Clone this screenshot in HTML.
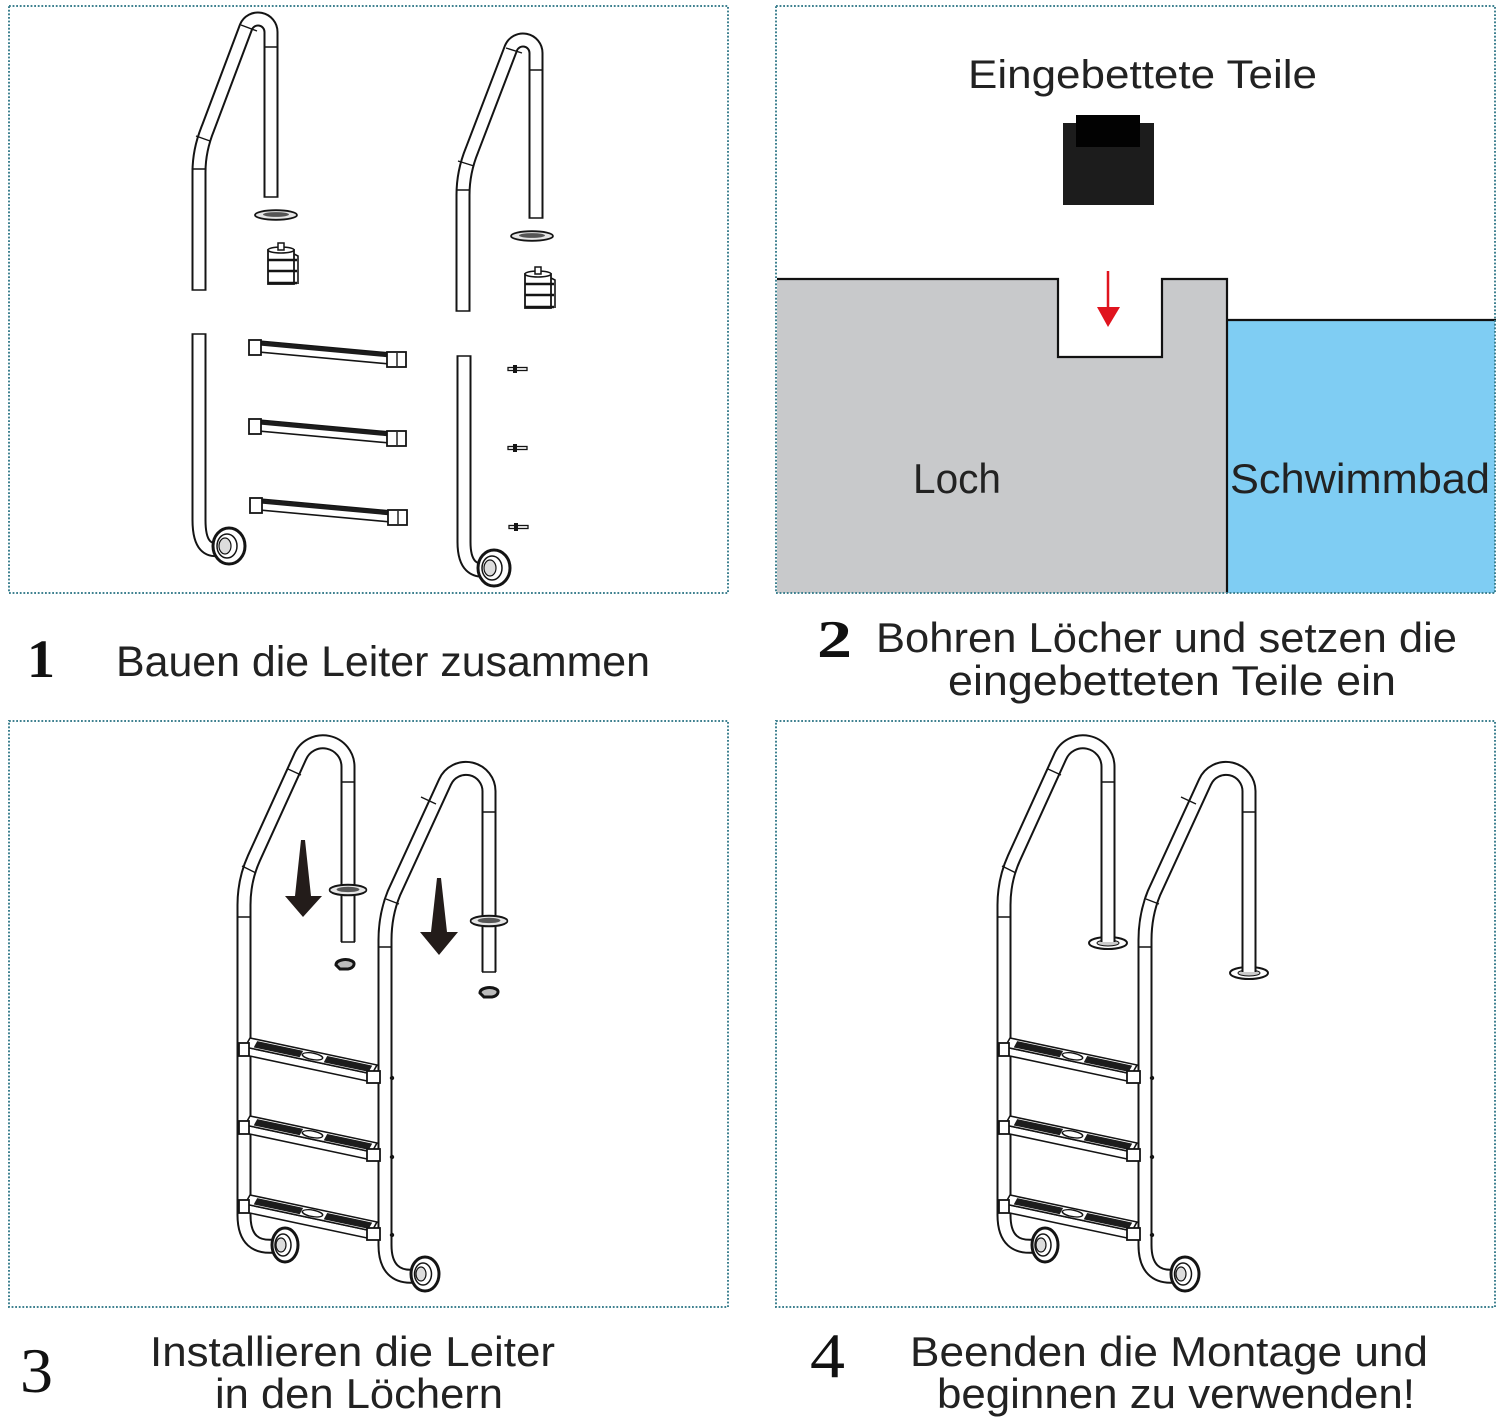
<!DOCTYPE html>
<html><head><meta charset="utf-8">
<style>
html,body{margin:0;padding:0;background:#fff;}
svg{display:block}
.tb{fill:none;stroke:#141414;stroke-width:15;stroke-linejoin:round}
.tw{fill:none;stroke:#fff;stroke-width:11;stroke-linejoin:round}
.ln{fill:none;stroke:#141414;stroke-width:1.4}
.txt{font-family:"Liberation Sans","DejaVu Sans",sans-serif;fill:#222}
.num{font-family:"Liberation Serif","DejaVu Serif",serif;fill:#111}
.bd{fill:none;stroke:#3f8190;stroke-width:2;stroke-dasharray:1.8 1.8}
</style></head><body>
<svg width="1500" height="1421" viewBox="0 0 1500 1421" xmlns="http://www.w3.org/2000/svg">
<defs>
  <g id="tr">
    <g transform="matrix(1,0.2126,0,1,245,1047)">
      <rect x="0" y="0" width="126" height="8" fill="#fff" stroke="#141414" stroke-width="1.6"/>
    </g>
    <g transform="matrix(1,0.2126,-0.5,0.9,250,1038)">
      <rect x="0" y="0" width="127" height="10" fill="#fff" stroke="#141414" stroke-width="1.6"/>
      <rect x="8" y="1.6" width="46" height="7" fill="#1c1c1c"/>
      <rect x="78" y="1.6" width="45" height="7" fill="#1c1c1c"/>
      <ellipse cx="65" cy="5" rx="10" ry="3.3" fill="#fff" stroke="#141414" stroke-width="1.4"/>
    </g>
    <rect x="239" y="1043" width="10" height="13" fill="#fff" stroke="#141414" stroke-width="1.8"/>
    <rect x="367" y="1071" width="13" height="12" fill="#fff" stroke="#141414" stroke-width="1.8"/>
  </g>
  <g id="lad">
    <path class="tb" d="M275,1246 C256,1248 244,1240 244,1215 L244,905 Q244,880 254,858 L300,757 A25,25 0 0 1 348,767 L348,942"/>
    <path class="tw" d="M275,1246 C256,1248 244,1240 244,1215 L244,905 Q244,880 254,858 L300,757 A25,25 0 0 1 348,767 L348,942"/>
    <path class="tb" d="M415,1276 C396,1278 385,1268 385,1245 L385,940 Q385,915 394,893 L445,782 A23,23 0 0 1 489,792 L489,972"/>
    <path class="tw" d="M415,1276 C396,1278 385,1268 385,1245 L385,940 Q385,915 394,893 L445,782 A23,23 0 0 1 489,792 L489,972"/>
    <path class="ln" d="M341,782 L355,782 M288,769 L301,775 M242,866 L256,873 M237,917 L251,917 M482,812 L496,812 M421,797 L436,804 M386,899 L399,904 M378,947 L392,947"/>
    <use href="#tr"/>
    <use href="#tr" transform="translate(0,78)"/>
    <use href="#tr" transform="translate(0,157)"/>
    <circle cx="392" cy="1078" r="2.2" fill="#141414"/>
    <circle cx="392" cy="1157" r="2.2" fill="#141414"/>
    <circle cx="392" cy="1235" r="2.2" fill="#141414"/>
    <ellipse cx="285" cy="1245" rx="13" ry="17" fill="#fff" stroke="#141414" stroke-width="3"/>
    <ellipse cx="283" cy="1245" rx="8" ry="11" fill="#fff" stroke="#141414" stroke-width="1.5"/>
    <ellipse cx="281" cy="1245" rx="5" ry="7" fill="#ddd" stroke="#141414" stroke-width="1.2"/>
    <ellipse cx="425" cy="1274" rx="14" ry="17" fill="#fff" stroke="#141414" stroke-width="3"/>
    <ellipse cx="423" cy="1274" rx="8.5" ry="11" fill="#fff" stroke="#141414" stroke-width="1.5"/>
    <ellipse cx="421" cy="1274" rx="5" ry="7" fill="#ddd" stroke="#141414" stroke-width="1.2"/>
  </g>
  <g id="tp">
    <polygon points="259,341 390,353 390,364 259,352" fill="#fff" stroke="#141414" stroke-width="1.6"/>
    <polygon points="259,341.5 390,353.5 390,357.5 259,345.5" fill="#1c1c1c"/>
    <rect x="249" y="340" width="12" height="15" fill="#fff" stroke="#141414" stroke-width="1.8"/>
    <rect x="387" y="352" width="19" height="15" fill="#fff" stroke="#141414" stroke-width="1.8"/>
    <line x1="397" y1="353" x2="397" y2="366" class="ln"/>
  </g>
  <g id="bolt">
    <rect x="508" y="-1.5" width="19" height="3" fill="#fff" stroke="#141414" stroke-width="1.3"/>
    <rect x="513" y="-4" width="4" height="8" fill="#141414"/>
  </g>
  <g id="anc">
    <rect x="-13" y="-16" width="26" height="34" fill="#fff" stroke="#141414" stroke-width="1.8"/>
    <ellipse cx="0" cy="-16" rx="13" ry="3" fill="#fff" stroke="#141414" stroke-width="1.6"/>
    <rect x="-3" y="-23" width="6" height="7" fill="#fff" stroke="#141414" stroke-width="1.5"/>
    <path d="M-13,-6 L16,-6 M-13,5 L16,5 M-13,17 L16,17" stroke="#141414" stroke-width="2.5" fill="none"/>
    <path d="M13,-12 L17,-10 L17,18" stroke="#141414" stroke-width="1.6" fill="none"/>
  </g>
  <g id="ring">
    <ellipse cx="0" cy="0" rx="21" ry="4.8" fill="#e6e6e6" stroke="#141414" stroke-width="1.8"/>
    <ellipse cx="0" cy="-0.5" rx="13" ry="2.4" fill="#555"/>
  </g>
</defs>

<!-- PANEL 1 -->
<rect class="bd" x="9" y="6" width="719" height="587"/>
<path class="tb" d="M199,290 L199,172 Q199,150 208,128 L246,27 A13,13 0 0 1 271,32 L271,197"/>
<path class="tw" d="M199,290 L199,172 Q199,150 208,128 L246,27 A13,13 0 0 1 271,32 L271,197"/>
<path class="tb" d="M463,311 L463,195 Q463,172 472,150 L511,48 A13,13 0 0 1 536,53 L536,218"/>
<path class="tw" d="M463,311 L463,195 Q463,172 472,150 L511,48 A13,13 0 0 1 536,53 L536,218"/>
<path class="tb" d="M199,334 L199,520 C199,546 208,552 222,549"/>
<path class="tw" d="M199,334 L199,520 C199,546 208,552 222,549"/>
<path class="tb" d="M464,356 L464,542 C464,566 474,572 488,570"/>
<path class="tw" d="M464,356 L464,542 C464,566 474,572 488,570"/>
<path class="ln" d="M191.5,290 L206.5,290 M263.5,197 L278.5,197 M455.5,311 L470.5,311 M528.5,218 L543.5,218 M191.5,334 L206.5,334 M456.5,356 L471.5,356
 M264,47 L278,47 M241,25 L257,31 M196,136 L210,141 M191.5,169 L206.5,169 M529,70 L543,70 M506,48 L522,53 M458,161 L474,166 M456,190 L470,190"/>
<ellipse cx="229" cy="546" rx="16" ry="18" fill="#fff" stroke="#141414" stroke-width="3"/>
<ellipse cx="227" cy="546" rx="10" ry="12" fill="#fff" stroke="#141414" stroke-width="1.5"/>
<ellipse cx="225" cy="546" rx="6" ry="8" fill="#ddd" stroke="#141414" stroke-width="1.2"/>
<ellipse cx="494" cy="568" rx="16" ry="18" fill="#fff" stroke="#141414" stroke-width="3"/>
<ellipse cx="492" cy="568" rx="10" ry="12" fill="#fff" stroke="#141414" stroke-width="1.5"/>
<ellipse cx="490" cy="568" rx="6" ry="8" fill="#ddd" stroke="#141414" stroke-width="1.2"/>
<use href="#ring" transform="translate(276,215)"/>
<use href="#ring" transform="translate(532,236)"/>
<use href="#anc" transform="translate(281,266)"/>
<use href="#anc" transform="translate(538,290)"/>
<use href="#tp"/>
<use href="#tp" transform="translate(0,79)"/>
<use href="#tp" transform="translate(1,158)"/>
<use href="#bolt" transform="translate(0,369)"/>
<use href="#bolt" transform="translate(0,448)"/>
<use href="#bolt" transform="translate(1,527)"/>

<!-- PANEL 2 -->
<polygon points="777,279 1058,279 1058,357 1162,357 1162,279 1227,279 1227,593 777,593" fill="#c8c9cb"/>
<rect x="1227" y="320" width="268" height="273" fill="#7fcdf3"/>
<polyline points="777,279 1058,279 1058,357 1162,357 1162,279 1227,279 1227,593" fill="none" stroke="#111" stroke-width="2.2"/>
<line x1="1227" y1="320" x2="1496" y2="320" stroke="#111" stroke-width="2.2"/>
<rect class="bd" x="776" y="6" width="719" height="587"/>
<rect x="1063" y="123" width="91" height="82" fill="#1c1c1c"/>
<rect x="1076" y="115" width="64" height="32" fill="#020202"/>
<line x1="1108" y1="271" x2="1108" y2="312" stroke="#e0141e" stroke-width="2.5"/>
<polygon points="1097,307 1120,307 1108,327" fill="#e0141e"/>
<text class="txt" x="968" y="88" font-size="40" textLength="349" lengthAdjust="spacingAndGlyphs">Eingebettete Teile</text>
<text class="txt" x="913" y="493" font-size="42" textLength="88" lengthAdjust="spacingAndGlyphs">Loch</text>
<text class="txt" x="1230" y="493" font-size="42" textLength="260" lengthAdjust="spacingAndGlyphs">Schwimmbad</text>

<text class="num" x="27" y="677" font-size="54" font-weight="bold" textLength="28" lengthAdjust="spacingAndGlyphs">1</text>
<text class="txt" x="116" y="676" font-size="43" textLength="534" lengthAdjust="spacingAndGlyphs">Bauen die Leiter zusammen</text>
<text class="num" x="817" y="657" font-size="53" font-weight="bold" textLength="35" lengthAdjust="spacingAndGlyphs">2</text>
<text class="txt" x="876" y="652" font-size="42" textLength="581" lengthAdjust="spacingAndGlyphs">Bohren Löcher und setzen die</text>
<text class="txt" x="948" y="695" font-size="42" textLength="448" lengthAdjust="spacingAndGlyphs">eingebetteten Teile ein</text>

<!-- PANEL 3 -->
<rect class="bd" x="9" y="721" width="719" height="586"/>
<use href="#lad"/>
<path class="ln" d="M341,942 L355,942 M482,972 L496,972"/>
<use href="#ring" transform="translate(348,890) scale(0.88,1.1)"/>
<use href="#ring" transform="translate(489,921) scale(0.88,1.1)"/>
<path d="M336,965 C336,960 346,958 352,961 C356,963 354,968 348,969 L340,969 Z" fill="#bbb" stroke="#141414" stroke-width="3"/>
<path d="M480,993 C480,988 490,986 496,989 C500,991 498,996 492,997 L484,997 Z" fill="#bbb" stroke="#141414" stroke-width="3"/>
<polygon points="301,840 305,840 311,896 322,896 303,917 285,896 295,896" fill="#231c1a"/>
<polygon points="437,878 441,878 447,932 458,932 439,955 420,932 431,932" fill="#231c1a"/>

<!-- PANEL 4 -->
<rect class="bd" x="776" y="721" width="719" height="586"/>
<use href="#lad" transform="translate(760,0)"/>
<ellipse cx="1108" cy="943" rx="19" ry="6" fill="#fff" stroke="#141414" stroke-width="2"/>
<ellipse cx="1108" cy="943" rx="11" ry="3" fill="#ccc" stroke="#141414" stroke-width="1"/>
<path class="tb" d="M1108,925 L1108,942"/>
<path class="tw" d="M1108,925 L1108,942"/>
<ellipse cx="1249" cy="973" rx="19" ry="6" fill="#fff" stroke="#141414" stroke-width="2"/>
<ellipse cx="1249" cy="973" rx="11" ry="3" fill="#ccc" stroke="#141414" stroke-width="1"/>
<path class="tb" d="M1249,955 L1249,972"/>
<path class="tw" d="M1249,955 L1249,972"/>

<text class="num" x="20" y="1392" font-size="64" textLength="33" lengthAdjust="spacingAndGlyphs">3</text>
<text class="txt" x="150" y="1366" font-size="42" textLength="405" lengthAdjust="spacingAndGlyphs">Installieren die Leiter</text>
<text class="txt" x="215" y="1408" font-size="42" textLength="288" lengthAdjust="spacingAndGlyphs">in den Löchern</text>
<text class="num" x="810" y="1377" font-size="64" textLength="35" lengthAdjust="spacingAndGlyphs">4</text>
<text class="txt" x="910" y="1366" font-size="42" textLength="518" lengthAdjust="spacingAndGlyphs">Beenden die Montage und</text>
<text class="txt" x="937" y="1408" font-size="42" textLength="478" lengthAdjust="spacingAndGlyphs">beginnen zu verwenden!</text>
</svg>
</body></html>
